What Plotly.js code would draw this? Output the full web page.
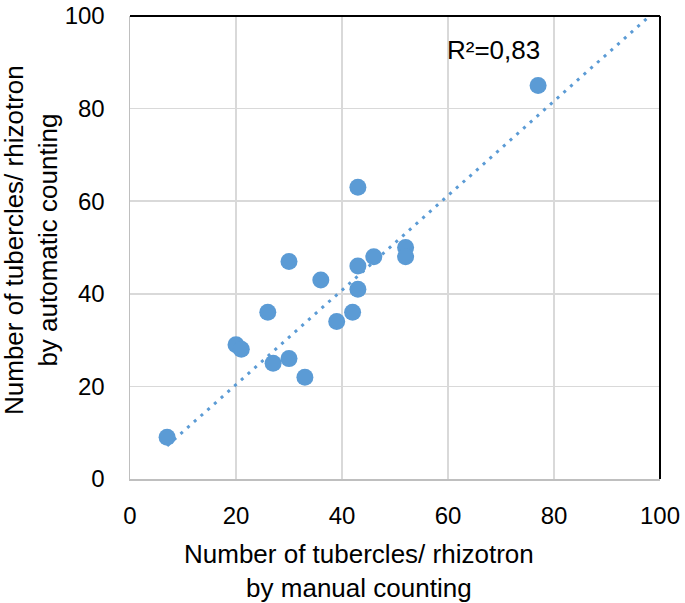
<!DOCTYPE html>
<html>
<head>
<meta charset="utf-8">
<script src="https://cdn.plot.ly/plotly-3.0.1.min.js"></script>
<style>html,body{margin:0;padding:0;background:#fff;}#chart{width:685px;height:603px;}</style>
</head>
<body>
<div id="chart"></div>
<script>
// Data
const manualCounts = [7, 20, 21, 26, 27, 30, 30, 33, 36, 39, 42, 43, 43, 43, 46, 52, 52, 77];
const autoCounts   = [9, 29, 28, 36, 25, 47, 26, 22, 43, 34, 36, 63, 46, 41, 48, 50, 48, 85];
const trendSlope = 1.02;
const trendIntercept = 0;
const trendEndX = 100;
const r2Label = "R²=0,83";
const tickValues = [0, 20, 40, 60, 80, 100];
const xTitle = "Number of tubercles/ rhizotron<br>by manual counting";
const yTitle = "Number of tubercles/ rhizotron<br>by automatic counting";

const blue = "#5B9BD5";
const trendX = [Math.min(...manualCounts), trendEndX];
const trendY = trendX.map(x => trendSlope * x + trendIntercept);

const traces = [
  {
    x: trendX, y: trendY, type: "scatter", mode: "lines",
    line: {color: blue, width: 3, dash: "3px,6px"},
    hoverinfo: "skip", showlegend: false
  },
  {
    x: manualCounts, y: autoCounts, type: "scatter", mode: "markers",
    marker: {color: blue, size: 17, line: {width: 0}},
    showlegend: false
  }
];

const fam = "Liberation Sans, Arial, Helvetica, sans-serif";

const layout = {
  width: 685, height: 603,
  margin: {l: 130, r: 25, t: 16, b: 124},
  paper_bgcolor: "#fff", plot_bgcolor: "#fff",
  font: {family: fam, color: "#000"},
  showlegend: false,
  xaxis: {
    range: [0, 100], tickvals: tickValues, ticktext: tickValues.map(String),
    showgrid: true, gridcolor: "#d9d9d9", gridwidth: 1.5,
    zeroline: false, showline: true, linecolor: "#bfbfbf", linewidth: 1.5,
    ticks: "", ticklabelstandoff: 15,
    tickfont: {size: 24, family: fam, color: "#000"}
  },
  yaxis: {
    range: [0, 100], tickvals: tickValues, ticktext: tickValues.map(String),
    showgrid: true, gridcolor: "#d9d9d9", gridwidth: 1.5,
    zeroline: false, showline: true, linecolor: "#bfbfbf", linewidth: 1.5,
    ticks: "", ticklabelstandoff: 19,
    tickfont: {size: 24, family: fam, color: "#000"}
  },
  shapes: [
    {type: "line", xref: "paper", yref: "paper", x0: 0, x1: 1, y0: 1, y1: 1, line: {color: "#000", width: 2}},
    {type: "line", xref: "paper", yref: "paper", x0: 1, x1: 1, y0: 0, y1: 1, line: {color: "#000", width: 2}}
  ],
  annotations: [
    {x: 68.6, y: 92.7, xref: "x", yref: "y", text: r2Label, showarrow: false,
     font: {size: 26, family: fam, color: "#000"}},
    {x: 0.432, y: -0.199, xref: "paper", yref: "paper", text: xTitle, showarrow: false,
     xanchor: "center", yanchor: "middle",
     font: {size: 26, family: fam, color: "#000"}},
    {x: -0.187, y: 0.516, xref: "paper", yref: "paper", text: yTitle, showarrow: false,
     textangle: -90, xanchor: "center", yanchor: "middle",
     font: {size: 26, family: fam, color: "#000"}}
  ]
};

Plotly.newPlot("chart", traces, layout, {displayModeBar: false, staticPlot: true});
</script>
</body>
</html>
